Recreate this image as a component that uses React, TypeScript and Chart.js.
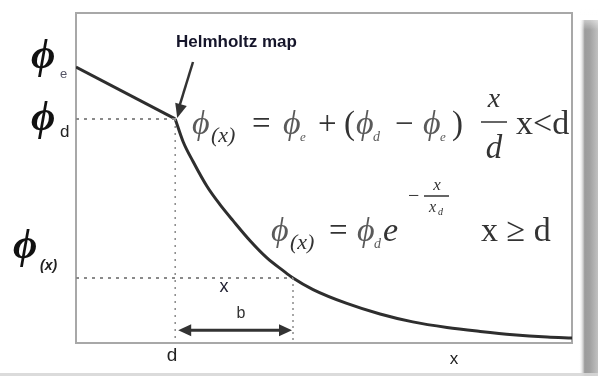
import React, { useEffect, useRef } from "react";
import { Chart, registerables } from "chart.js";

Chart.register(...registerables);

// Potential profile: linear drop inside the Helmholtz layer, then exponential decay.
const linearX = [0, 2.0];
const linearY = [0.836, 0.679];
const decayX = [2.0, 2.16, 2.36, 2.64, 2.9, 3.17, 3.51, 3.85, 4.17, 4.375, 4.78, 5.46, 6.13, 6.79, 7.48, 8.15, 8.81, 9.5, 10];
const decayY = [0.679, 0.61, 0.55, 0.475, 0.42, 0.37, 0.31, 0.258, 0.22, 0.197, 0.162, 0.12, 0.088, 0.064, 0.047, 0.035, 0.025, 0.018, 0.015];

// Reference markers
const dPos = 2.0;
const phiD = 0.679;
const xPos = 4.375;
const phiX = 0.197;
const spanArrowY = 0.039;

const toPts = (xs: number[], ys: number[]) => xs.map((x, i) => ({ x, y: ys[i] }));

const SERIF = '"Liberation Serif", "DejaVu Serif", serif';
const SANS = '"Liberation Sans", Arial, sans-serif';
const PHI = "ϕ";

function txt(ctx: CanvasRenderingContext2D, s: string, x: number, y: number, font: string, color: string, align: CanvasTextAlign = "left") {
  ctx.font = font;
  ctx.fillStyle = color;
  ctx.textAlign = align;
  ctx.textBaseline = "alphabetic";
  ctx.fillText(s, x, y);
}

function arrowHead(ctx: CanvasRenderingContext2D, tx: number, ty: number, fx: number, fy: number, len: number, wid: number) {
  const a = Math.atan2(ty - fy, tx - fx);
  ctx.beginPath();
  ctx.moveTo(tx, ty);
  ctx.lineTo(tx - len * Math.cos(a) + wid * Math.sin(a), ty - len * Math.sin(a) - wid * Math.cos(a));
  ctx.lineTo(tx - len * Math.cos(a) - wid * Math.sin(a), ty - len * Math.sin(a) + wid * Math.cos(a));
  ctx.closePath();
  ctx.fill();
}

const annotations = {
  id: "annotations",
  beforeDatasetsDraw(chart: any) {
    const { ctx, chartArea: a } = chart;
    ctx.save();
    ctx.strokeStyle = "#a8a8a8";
    ctx.lineWidth = 2;
    ctx.strokeRect(a.left, a.top, a.right - a.left, a.bottom - a.top);
    ctx.restore();
  },
  afterDraw(chart: any) {
    const { ctx, scales } = chart;
    const xs = scales.x;
    const ys = scales.y;
    ctx.save();

    // right and bottom drop shadow
    const g = ctx.createLinearGradient(579, 0, 598, 0);
    g.addColorStop(0, "rgba(255,255,255,0)");
    g.addColorStop(0.3, "rgba(150,150,150,0.95)");
    g.addColorStop(0.55, "rgba(155,155,155,0.95)");
    g.addColorStop(1, "rgba(190,190,190,0.95)");
    ctx.fillStyle = g;
    ctx.fillRect(579, 20, 19, 356);
    const gt = ctx.createLinearGradient(0, 8, 0, 30);
    gt.addColorStop(0, "rgba(255,255,255,1)");
    gt.addColorStop(1, "rgba(255,255,255,0)");
    ctx.fillStyle = gt;
    ctx.fillRect(579, 8, 19, 22);
    ctx.fillStyle = "rgba(215,215,215,0.9)";
    ctx.fillRect(0, 373, 598, 3);

    // span arrow between d and x
    const ax1 = xs.getPixelForValue(dPos) + 3;
    const ax2 = xs.getPixelForValue(xPos) - 1;
    const ay = ys.getPixelForValue(spanArrowY);
    ctx.strokeStyle = "#333";
    ctx.fillStyle = "#333";
    ctx.lineWidth = 3;
    ctx.beginPath();
    ctx.moveTo(ax1 + 8, ay);
    ctx.lineTo(ax2 - 8, ay);
    ctx.stroke();
    arrowHead(ctx, ax1, ay, ax2, ay, 13, 6);
    arrowHead(ctx, ax2, ay, ax1, ay, 13, 6);

    // Helmholtz pointer
    const kx = xs.getPixelForValue(dPos);
    const ky = ys.getPixelForValue(phiD);
    ctx.lineWidth = 2.5;
    ctx.beginPath();
    ctx.moveTo(193, 62);
    ctx.lineTo(kx + 4, ky - 12);
    ctx.stroke();
    arrowHead(ctx, kx + 2, ky - 1, 193, 62, 14, 6);

    txt(ctx, "Helmholtz map", 176, 47, `bold 17px ${SANS}`, "#15152a");

    // axis labels
    txt(ctx, PHI, 31, 68, `bold italic 42px ${SERIF}`, "#111");
    txt(ctx, "e", 60, 78, `13px ${SANS}`, "#556");
    txt(ctx, PHI, 31, 130, `bold italic 42px ${SERIF}`, "#111");
    txt(ctx, "d", 60, 137, `17px ${SANS}`, "#222");
    txt(ctx, PHI, 13, 258, `bold italic 42px ${SERIF}`, "#111");
    txt(ctx, "(x)", 40, 270, `bold italic 14px ${SANS}`, "#222");

    txt(ctx, "d", 172, 361, `19px ${SANS}`, "#222", "center");
    txt(ctx, "x", 454, 364, `17px ${SANS}`, "#222", "center");
    txt(ctx, "x", 224, 292, `18px ${SANS}`, "#223", "center");
    txt(ctx, "b", 241, 318, `16px ${SANS}`, "#333", "center");

    // equation: linear part
    const eqPhi = "#5a5a5a";
    const eqCol = "#333";
    const IT = `italic 34px ${SERIF}`;
    const UP = `33px ${SERIF}`;
    txt(ctx, PHI, 192, 134, IT, eqPhi);
    txt(ctx, "(x)", 211, 142, `italic 22px ${SERIF}`, eqCol);
    txt(ctx, "=", 252, 134, UP, eqCol);
    txt(ctx, PHI, 283, 134, IT, eqPhi);
    txt(ctx, "e", 300, 141, `italic 13px ${SERIF}`, eqPhi);
    txt(ctx, "+", 318, 134, UP, eqCol);
    txt(ctx, "(", 344, 134, UP, eqCol);
    txt(ctx, PHI, 356, 134, IT, eqPhi);
    txt(ctx, "d", 373, 141, `italic 14px ${SERIF}`, eqPhi);
    txt(ctx, "−", 395, 134, UP, eqCol);
    txt(ctx, PHI, 423, 134, IT, eqPhi);
    txt(ctx, "e", 440, 141, `italic 13px ${SERIF}`, eqPhi);
    txt(ctx, ")", 452, 134, UP, eqCol);
    txt(ctx, "x", 494, 107, `italic 28px ${SERIF}`, eqCol, "center");
    ctx.strokeStyle = eqCol;
    ctx.lineWidth = 1.5;
    ctx.beginPath();
    ctx.moveTo(481, 122);
    ctx.lineTo(507, 122);
    ctx.stroke();
    txt(ctx, "d", 494, 158, `italic 33px ${SERIF}`, eqCol, "center");
    txt(ctx, "x<d", 516, 134, `34px ${SERIF}`, eqCol);

    // equation: exponential part
    txt(ctx, PHI, 271, 241, IT, eqPhi);
    txt(ctx, "(x)", 290, 249, `italic 22px ${SERIF}`, eqCol);
    txt(ctx, "=", 329, 241, UP, eqCol);
    txt(ctx, PHI, 357, 241, IT, eqPhi);
    txt(ctx, "d", 374, 248, `italic 14px ${SERIF}`, eqPhi);
    txt(ctx, "e", 383, 241, IT, eqCol);
    txt(ctx, "−", 408, 202, `20px ${SERIF}`, eqCol);
    txt(ctx, "x", 437, 190, `italic 17px ${SERIF}`, eqCol, "center");
    ctx.beginPath();
    ctx.moveTo(424, 196);
    ctx.lineTo(449, 196);
    ctx.stroke();
    txt(ctx, "x", 429, 212, `italic 16px ${SERIF}`, eqCol);
    txt(ctx, "d", 438, 215, `italic 10px ${SERIF}`, eqCol);
    txt(ctx, "x ≥ d", 481, 241, `34px ${SERIF}`, eqCol);

    ctx.restore();
  },
};

export default function App() {
  const ref = useRef<HTMLCanvasElement | null>(null);

  useEffect(() => {
    if (!ref.current) return;
    const dotted = {
      borderColor: "#8a8a8a",
      borderWidth: 2,
      borderDash: [3, 5],
      pointRadius: 0,
      fill: false,
      tension: 0,
    };
    const chart = new Chart(ref.current, {
      type: "line",
      data: {
        datasets: [
          { ...dotted, data: [{ x: 0, y: phiD }, { x: dPos, y: phiD }] },
          { ...dotted, borderWidth: 1.5, borderDash: [2, 5], data: [{ x: dPos, y: phiD }, { x: dPos, y: 0 }] },
          { ...dotted, data: [{ x: 0, y: phiX }, { x: xPos, y: phiX }] },
          { ...dotted, borderWidth: 1.5, borderDash: [2, 4], data: [{ x: xPos, y: phiX }, { x: xPos, y: -0.015 }] },
          {
            data: toPts(linearX, linearY),
            borderColor: "#2e2e2e",
            borderWidth: 3,
            pointRadius: 0,
            tension: 0,
            fill: false,
          },
          {
            data: toPts(decayX, decayY),
            borderColor: "#2e2e2e",
            borderWidth: 3,
            pointRadius: 0,
            cubicInterpolationMode: "monotone",
            fill: false,
          },
        ],
      },
      options: {
        animation: false,
        responsive: false,
        maintainAspectRatio: false,
        layout: { padding: { left: 76, right: 26, top: 13, bottom: 33 } },
        plugins: { legend: { display: false }, tooltip: { enabled: false } },
        scales: {
          x: { type: "linear", min: 0, max: 10, display: false },
          y: { type: "linear", min: 0, max: 1, display: false },
        },
      },
      plugins: [annotations],
    } as any);
    return () => chart.destroy();
  }, []);

  return (
    <div style={{ position: "fixed", left: 0, top: 0, width: 598, height: 376, background: "#fff" }}>
      <canvas ref={ref} width={598} height={376} style={{ display: "block" }} />
    </div>
  );
}
